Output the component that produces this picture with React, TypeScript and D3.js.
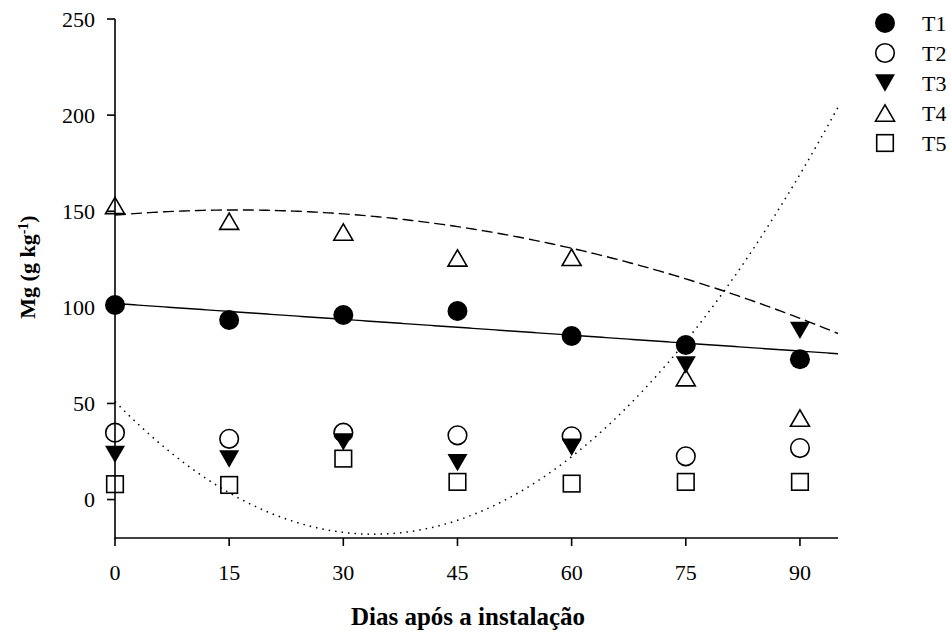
import React from "react";
import * as d3 from "d3";

const days = [0, 15, 30, 45, 60, 75, 90];
const t1 = [101.2, 93.4, 96, 98.1, 85.1, 80.4, 73];
const t2 = [34.8, 31.6, 34.8, 33.4, 32.9, 22.5, 26.8];
const t3 = [23.5, 21.1, 30, 19.2, 27.2, 70, 88];
const t4 = [153, 144.8, 139.2, 125.7, 126, 63.4, 42.4];
const t5 = [8.0, 7.6, 21.3, 9.2, 8.3, 9.2, 9.2];

// fitted regression coefficients (a + b x + c x^2)
const fitT1 = [102, -0.275];
const fitT4 = [148, 0.33, -0.0103];
const fitT3 = [51, -4.06, 0.0597];

const xTicks = [0, 15, 30, 45, 60, 75, 90];
const yTicks = [0, 50, 100, 150, 200, 250];
const legendLabels = ["T1", "T2", "T3", "T4", "T5"];

const W = 951;
const H = 633;
const FONT = "Liberation Serif, Times New Roman, DejaVu Serif, serif";

const x = d3.scaleLinear().domain([0, 95]).range([115, 838]);
const y = d3.scaleLinear().domain([-20, 250]).range([538, 19]);

function poly(c: number[], v: number) {
  return c.reduce((s, k, i) => s + k * Math.pow(v, i), 0);
}

function fitPath(c: number[]) {
  const xs = d3.range(0, 95.001, 0.5);
  return d3
    .line<number>()
    .x((d) => x(d))
    .y((d) => y(poly(c, d)))(xs) as string;
}

type Kind = "fcircle" | "ocircle" | "dtri" | "utri" | "square";
const kinds: Kind[] = ["fcircle", "ocircle", "dtri", "utri", "square"];

function Marker({ kind, cx, cy }: { kind: Kind; cx: number; cy: number }) {
  const sw = 1.6;
  if (kind === "fcircle") return <circle cx={cx} cy={cy} r={10} fill="#000" />;
  if (kind === "ocircle")
    return <circle cx={cx} cy={cy} r={9.3} fill="none" stroke="#000" strokeWidth={sw} />;
  if (kind === "dtri") {
    const w = 10, h = 8.7;
    return <path d={`M${cx - w},${cy - h}L${cx + w},${cy - h}L${cx},${cy + h}Z`} fill="#000" />;
  }
  if (kind === "utri") {
    const w = 9.5, h = 8.2;
    return (
      <path
        d={`M${cx - w},${cy + h}L${cx + w},${cy + h}L${cx},${cy - h}Z`}
        fill="none"
        stroke="#000"
        strokeWidth={sw}
        strokeLinejoin="miter"
      />
    );
  }
  const s = 8.3;
  return <rect x={cx - s} y={cy - s} width={2 * s} height={2 * s} fill="none" stroke="#000" strokeWidth={sw} />;
}

const txt = { fontFamily: FONT } as React.CSSProperties;

export default function App() {
  const series = [t1, t2, t3, t4, t5];
  return (
    <svg
      width={W}
      height={H}
      style={{ position: "absolute", left: 0, top: 0, background: "#fff", fontFamily: FONT }}
    >
      <rect width={W} height={H} fill="#fff" />
      {/* fitted curves */}
      <path d={fitPath(fitT1)} fill="none" stroke="#000" strokeWidth={1.4} />
      <path d={fitPath(fitT4)} fill="none" stroke="#000" strokeWidth={1.4} strokeDasharray="11,5" />
      <path d={fitPath(fitT3)} fill="none" stroke="#000" strokeWidth={1.5} strokeDasharray="1.5,5" />

      {/* axes */}
      <line x1={x(0)} x2={x(0)} y1={y(250)} y2={y(-20) + 1} stroke="#000" strokeWidth={1.6} />
      <line x1={x(0)} x2={x(95)} y1={y(-20)} y2={y(-20)} stroke="#000" strokeWidth={1.6} />
      {yTicks.map((t) => (
        <g key={"y" + t}>
          <line x1={x(0) - 8} x2={x(0)} y1={y(t)} y2={y(t)} stroke="#000" strokeWidth={1.6} />
          <text style={txt} x={x(0) - 20} y={y(t) + 7.5} textAnchor="end" fontSize={22}>
            {t}
          </text>
        </g>
      ))}
      {xTicks.map((t) => (
        <g key={"x" + t}>
          <line x1={x(t)} x2={x(t)} y1={y(-20)} y2={y(-20) + 8} stroke="#000" strokeWidth={1.6} />
          <text style={txt} x={x(t)} y={580} textAnchor="middle" fontSize={22}>
            {t}
          </text>
        </g>
      ))}
      <text style={txt} x={468} y={625} textAnchor="middle" fontSize={25} fontWeight="bold">
        Dias após a instalação
      </text>
      <text style={txt} transform="translate(35,267) rotate(-90)" textAnchor="middle" fontSize={22} fontWeight="bold">
        Mg (g kg<tspan baselineShift="super" fontSize={14}>-1</tspan>)
      </text>

      {/* markers */}
      {series.map((vals, si) =>
        vals.map((v, i) => <Marker key={si + "-" + i} kind={kinds[si]} cx={x(days[i])} cy={y(v)} />)
      )}

      {/* legend */}
      {legendLabels.map((l, i) => (
        <g key={l}>
          <Marker kind={kinds[i]} cx={885} cy={23 + i * 30} />
          <text style={txt} x={922} y={23 + i * 30 + 7.5} fontSize={22}>
            {l}
          </text>
        </g>
      ))}
    </svg>
  );
}
